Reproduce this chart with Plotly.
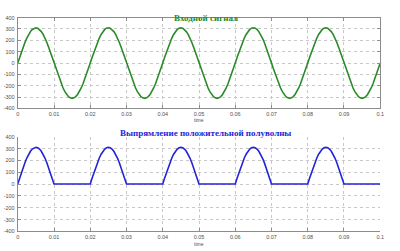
import plotly.graph_objects as go

# time axis samples (s), 0.5 ms step
t = [round(k * 0.0005, 4) for k in range(201)]

# input signal (V), read at 0.5 ms step
input_signal = [
    0, 49, 96, 141, 183, 220, 252, 277, 296, 307, 311, 307, 296, 277, 252, 220, 183, 141, 96, 49,
    0, -49, -96, -141, -183, -220, -252, -277, -296, -307, -311, -307, -296, -277, -252, -220, -183, -141, -96, -49,
    0, 49, 96, 141, 183, 220, 252, 277, 296, 307, 311, 307, 296, 277, 252, 220, 183, 141, 96, 49,
    0, -49, -96, -141, -183, -220, -252, -277, -296, -307, -311, -307, -296, -277, -252, -220, -183, -141, -96, -49,
    0, 49, 96, 141, 183, 220, 252, 277, 296, 307, 311, 307, 296, 277, 252, 220, 183, 141, 96, 49,
    0, -49, -96, -141, -183, -220, -252, -277, -296, -307, -311, -307, -296, -277, -252, -220, -183, -141, -96, -49,
    0, 49, 96, 141, 183, 220, 252, 277, 296, 307, 311, 307, 296, 277, 252, 220, 183, 141, 96, 49,
    0, -49, -96, -141, -183, -220, -252, -277, -296, -307, -311, -307, -296, -277, -252, -220, -183, -141, -96, -49,
    0, 49, 96, 141, 183, 220, 252, 277, 296, 307, 311, 307, 296, 277, 252, 220, 183, 141, 96, 49,
    0, -49, -96, -141, -183, -220, -252, -277, -296, -307, -311, -307, -296, -277, -252, -220, -183, -141, -96, -49,
    0,
]

# rectified output (V), positive half-waves only
rectified_signal = [
    0, 49, 96, 141, 183, 220, 252, 277, 296, 307, 311, 307, 296, 277, 252, 220, 183, 141, 96, 49,
    0, 0, 0, 0, 0, 0, 0, 0, 0, 0, 0, 0, 0, 0, 0, 0, 0, 0, 0, 0,
    0, 49, 96, 141, 183, 220, 252, 277, 296, 307, 311, 307, 296, 277, 252, 220, 183, 141, 96, 49,
    0, 0, 0, 0, 0, 0, 0, 0, 0, 0, 0, 0, 0, 0, 0, 0, 0, 0, 0, 0,
    0, 49, 96, 141, 183, 220, 252, 277, 296, 307, 311, 307, 296, 277, 252, 220, 183, 141, 96, 49,
    0, 0, 0, 0, 0, 0, 0, 0, 0, 0, 0, 0, 0, 0, 0, 0, 0, 0, 0, 0,
    0, 49, 96, 141, 183, 220, 252, 277, 296, 307, 311, 307, 296, 277, 252, 220, 183, 141, 96, 49,
    0, 0, 0, 0, 0, 0, 0, 0, 0, 0, 0, 0, 0, 0, 0, 0, 0, 0, 0, 0,
    0, 49, 96, 141, 183, 220, 252, 277, 296, 307, 311, 307, 296, 277, 252, 220, 183, 141, 96, 49,
    0, 0, 0, 0, 0, 0, 0, 0, 0, 0, 0, 0, 0, 0, 0, 0, 0, 0, 0, 0,
    0,
]

x_ticks = [0, 0.01, 0.02, 0.03, 0.04, 0.05, 0.06, 0.07, 0.08, 0.09, 0.1]
x_tick_labels = ["0", "0.01", "0.02", "0.03", "0.04", "0.05", "0.06", "0.07", "0.08", "0.09", "0.1"]
y_ticks = [-400, -300, -200, -100, 0, 100, 200, 300, 400]
y_tick_labels = ["-400", "-300", "-200", "-100", "0", "100", "200", "300", "400"]

title_top = "Входной сигнал"
title_bottom = "Выпрямление положительной полуволны"
x_label = "time"

W, H = 400, 251
GREEN = "#2a8a2a"
BLUE = "#2424d6"
AXC = "#8c8c8c"
GRID = "#c8c8c8"
TICKFONT = dict(family="Liberation Sans", size=5.5, color="#505050")

fig = go.Figure()
fig.add_trace(go.Scatter(x=t, y=input_signal, mode="lines",
                         line=dict(color=GREEN, width=1.6), xaxis="x", yaxis="y",
                         showlegend=False))
fig.add_trace(go.Scatter(x=t, y=rectified_signal, mode="lines",
                         line=dict(color=BLUE, width=1.6), xaxis="x2", yaxis="y2",
                         showlegend=False))

def xa(domain, anchor, mirror):
    return dict(domain=domain, anchor=anchor, range=[0, 0.1], tickvals=x_ticks,
                ticktext=x_tick_labels, ticks="inside", ticklen=3, tickcolor=AXC,
                showline=True, linecolor=AXC, linewidth=1, mirror=mirror,
                showgrid=True, gridcolor=GRID, griddash="dot", gridwidth=1,
                zeroline=False, tickfont=TICKFONT, ticklabelstandoff=0)

def ya(domain, anchor, mirror):
    return dict(domain=domain, anchor=anchor, range=[-400, 400], tickvals=y_ticks,
                ticktext=y_tick_labels, ticks="inside", ticklen=3, tickcolor=AXC,
                showline=True, linecolor=AXC, linewidth=1, mirror=mirror,
                showgrid=True, gridcolor=GRID, griddash="dot", gridwidth=1,
                zeroline=False, tickfont=TICKFONT, ticklabelstandoff=1)

xd = [16 / W, 384 / W]
yd_top = [1 - 108 / H, 1 - 15 / H]
yd_bot = [1 - 234 / H, 1 - 137 / H]

fig.update_layout(
    width=W, height=H, margin=dict(l=0, r=0, t=0, b=0),
    paper_bgcolor="white", plot_bgcolor="white",
    xaxis=xa(xd, "y", "ticks"), yaxis=ya(yd_top, "x", "ticks"),
    xaxis2=xa(xd, "y2", False), yaxis2=ya(yd_bot, "x2", False),
    annotations=[
        dict(text="<b>" + title_top + "</b>", x=207 / W, y=1 - 8 / H, xref="paper", yref="paper",
             showarrow=False, font=dict(family="Liberation Serif", size=9, color=GREEN)),
        dict(text="<b>" + title_bottom + "</b>", x=207 / W, y=1 - 133 / H, xref="paper", yref="paper",
             showarrow=False, font=dict(family="Liberation Serif", size=9, color=BLUE)),
        dict(text=x_label, x=200 / W, y=1 - 120 / H, xref="paper", yref="paper",
             showarrow=False, font=dict(family="Liberation Sans", size=5, color="#505050")),
        dict(text=x_label, x=200 / W, y=0, yanchor="bottom", yshift=-1, xref="paper", yref="paper",
             showarrow=False, font=dict(family="Liberation Sans", size=5, color="#505050")),
    ],
)

fig.write_html("out.html")
